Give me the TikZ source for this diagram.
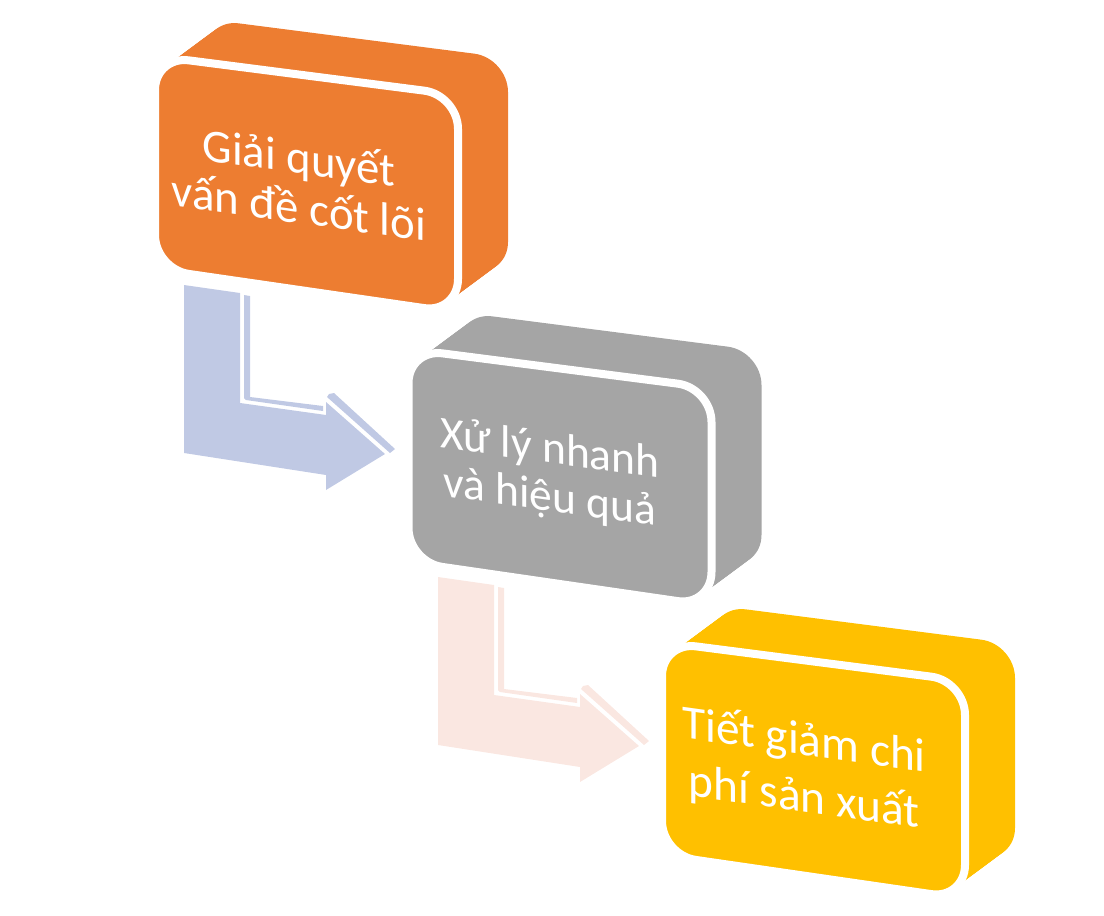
\documentclass[tikz,border=0pt]{standalone}
\usepackage{fontspec}
\setmainfont{Carlito}
\definecolor{orng}{RGB}{237,125,49}
\definecolor{gry}{RGB}{165,165,165}
\definecolor{gld}{RGB}{255,192,0}
\definecolor{arrblue}{RGB}{192,201,228}
\definecolor{arrpink}{RGB}{250,231,225}
\tikzset{
  boxface/.pic={\path[pic actions, rounded corners=34] (0,106) -- (0,0) -- (303,39) -- (303,257) -- (0,213) -- cycle;},
  bentarrow/.pic={
    \path[pic actions] (0,0) -- (56,8) -- (56,118) -- (142,130) -- (142,117) -- (201,169) -- (142,205) -- (142,190) -- (0,168) -- cycle;
    \path[pic actions] (60,10) -- (66,11) -- (66,112) -- (139,121) -- (139,126) -- (62,115) -- (60,113) -- cycle;
    \path[pic actions] (143,112) -- (145,109) -- (150,108) -- (211,164) -- (206,168) -- cycle;
  },
  txt/.style={text=white, inner sep=0pt, transform shape, anchor=base},
  frontface/.style={draw=white, line width=8pt, line join=round}
}
\begin{document}
\begin{tikzpicture}[x=1pt,y=-1pt]
\useasboundingbox (0,0) rectangle (1104,916);
% arrows
\pic[fill=arrblue] at (184,285) {bentarrow};
\pic[fill=arrpink] at (438,577) {bentarrow};
% box 1
\begin{scope}[shift={(155,56)}]
  \foreach \k in {0,...,25} \pic[fill=orng] at (\k*2,-\k*1.48) {boxface};
  \pic[fill=orng, frontface] at (0,0) {boxface};
\end{scope}
\begin{scope}[shift={(299,198.5)}, yslant=-0.14]
  \node[txt, font=\fontsize{46.8}{50}\selectfont] (t1a) at (0,-25) {Giải quyết};
  \node[txt, font=\fontsize{46.8}{50}\selectfont] (t1b) at (0,25) {vấn đề cốt lõi};
\end{scope}
% box 2
\begin{scope}[shift={(408.5,349)}]
  \foreach \k in {0,...,25} \pic[fill=gry] at (\k*2,-\k*1.48) {boxface};
  \pic[fill=gry, frontface] at (0,0) {boxface};
\end{scope}
\begin{scope}[shift={(550,487)}, yslant=-0.14]
  \node[txt, font=\fontsize{45.5}{50}\selectfont] (t2a) at (0,-24) {Xử lý nhanh};
  \node[txt, font=\fontsize{45.5}{50}\selectfont] (t2b) at (0,24) {và hiệu quả};
\end{scope}
% box 3
\begin{scope}[shift={(662,642)}]
  \foreach \k in {0,...,25} \pic[fill=gld] at (\k*2,-\k*1.48) {boxface};
  \pic[fill=gld, frontface] at (0,0) {boxface};
\end{scope}
\begin{scope}[shift={(804,783.5)}, yslant=-0.14]
  \node[txt, font=\fontsize{47.3}{52}\selectfont] (t3a) at (0,-28.5) {Tiết giảm chi};
  \node[txt, font=\fontsize{47.3}{52}\selectfont] (t3b) at (0,28.5) {phí sản xuất};
\end{scope}
\end{tikzpicture}
\end{document}
